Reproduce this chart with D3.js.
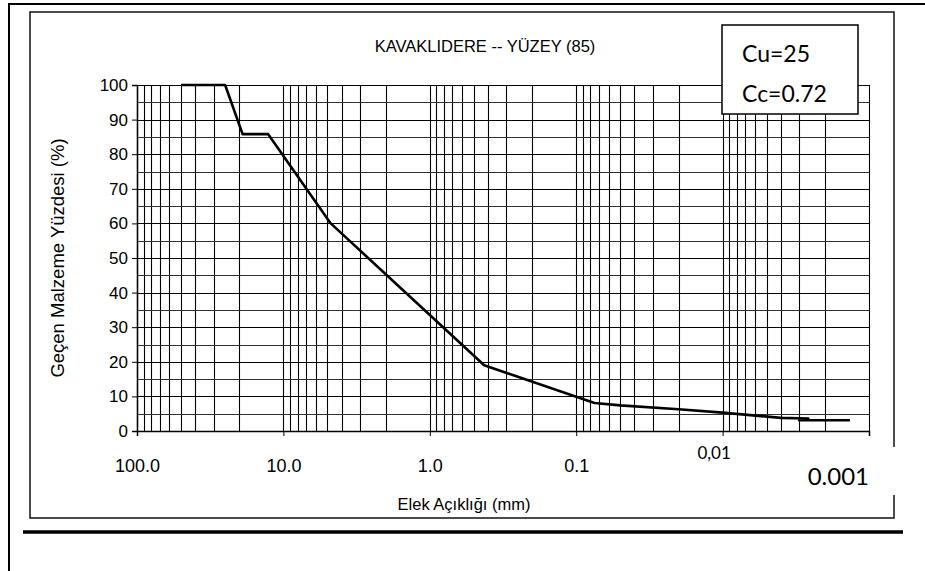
<html>
<head>
    <meta charSet="utf-8">
    <title>Kavaklidere - Yuzey</title>
    <script src="https://d3js.org/d3.v7.min.js"></script>
    <style>
        body { margin: 0; background: #fff; }
        text { font-family: "Liberation Sans", Arial, sans-serif; fill: #000; }
    </style>
</head>
<body>
<svg id="chart"></svg>
<script>
    // grain size (mm) and percent passing
    const sizes   = [50, 25, 19, 12.7, 4.75, 0.425, 0.075, 0.05, 0.02, 0.01, 0.004, 0.0026, 0.003, 0.00135];
    const passing = [100, 100, 85.8, 85.8, 60, 19, 8.1, 7.4, 6.3, 5.3, 3.8, 3.6, 3.1, 3.1];

    const xTicks = [100, 10, 1, 0.1, 0.01, 0.001];
    const xTickLabels = ["100.0", "10.0", "1.0", "0.1", "0,01", "0.001"];
    const yTicks = [0, 10, 20, 30, 40, 50, 60, 70, 80, 90, 100];

    const title = "KAVAKLIDERE -- YÜZEY (85)";
    const xTitle = "Elek Açıklığı (mm)";
    const yTitle = "Geçen Malzeme Yüzdesi (%)";
    const notes = ["Cu=25", "Cc=0.72"];

    const width = 925;
    const height = 571;

    const svg = d3.select("#chart")
        .attr("width", width)
        .attr("height", height);

    // page lines
    svg.append("line").attr("x1", 8).attr("x2", 925).attr("y1", 4).attr("y2", 4)
        .attr("stroke", "#000").attr("stroke-width", 2);
    svg.append("line").attr("x1", 9).attr("x2", 9).attr("y1", 4).attr("y2", 571)
        .attr("stroke", "#000").attr("stroke-width", 2);
    svg.append("line").attr("x1", 23).attr("x2", 903).attr("y1", 532).attr("y2", 532)
        .attr("stroke", "#000").attr("stroke-width", 3.5);

    // chart frame
    svg.append("rect")
        .attr("x", 30).attr("y", 12).attr("width", 864).attr("height", 506)
        .attr("fill", "none").attr("stroke", "#111").attr("stroke-width", 1.5);

    const x = d3.scaleLog().domain([100, 0.001]).range([137, 869]);
    const y = d3.scaleLinear().domain([0, 100]).range([431, 85]);

    // grid
    const gridX = [];
    for (let k = -3; k <= 1; k++) {
        for (let m = 1; m <= 9; m++) gridX.push(m * Math.pow(10, k));
    }
    gridX.push(100);

    svg.append("g").selectAll("line")
        .data(gridX)
        .join("line")
        .attr("x1", d => Math.round(x(d)) + 0.5)
        .attr("x2", d => Math.round(x(d)) + 0.5)
        .attr("y1", y(100))
        .attr("y2", y(0))
        .attr("stroke", "#000")
        .attr("stroke-width", 1.1);

    svg.append("g").selectAll("line")
        .data(d3.range(0, 101, 5))
        .join("line")
        .attr("x1", x(100))
        .attr("x2", x(0.001))
        .attr("y1", d => Math.round(y(d)) + 0.5)
        .attr("y2", d => Math.round(y(d)) + 0.5)
        .attr("stroke", d => d % 10 === 0 ? "#000" : "#333")
        .attr("stroke-width", 1.1);

    // axes
    const yAxis = svg.append("g")
        .attr("transform", `translate(${x(100)},0)`)
        .call(d3.axisLeft(y).tickValues(yTicks).tickSize(5).tickPadding(4));
    yAxis.select(".domain").attr("stroke", "#000").attr("stroke-width", 1.5);
    yAxis.selectAll(".tick line").attr("stroke", "#000");
    yAxis.selectAll("text").style("font-size", "17px").style("font-family", "Liberation Sans, Arial, sans-serif");

    const xAxis = svg.append("g")
        .attr("transform", `translate(0,${y(0)})`)
        .call(d3.axisBottom(x).tickValues(xTicks).tickSize(5).tickPadding(23)
            .tickFormat((d, i) => xTickLabels[i]));
    xAxis.select(".domain").attr("stroke", "#000").attr("stroke-width", 1.5);
    xAxis.selectAll(".tick line").attr("stroke", "#000");
    xAxis.selectAll("text").style("font-size", "18px").style("font-family", "Liberation Sans, Arial, sans-serif");

    // the two smaller-decade labels are separate text boxes in the original
    xAxis.selectAll(".tick").filter(d => d === 0.01).select("text")
        .attr("x", -9).attr("y", 16)
        .style("font-family", "Lato, sans-serif").style("font-size", "17px");
    xAxis.selectAll(".tick").filter(d => d === 0.001).select("text").remove();

    // curve
    const pts = sizes.map((s, i) => [s, passing[i]]);
    svg.append("path")
        .datum(pts)
        .attr("fill", "none")
        .attr("stroke", "#000")
        .attr("stroke-width", 2.6)
        .attr("stroke-linejoin", "round")
        .attr("d", d3.line().x(d => x(d[0])).y(d => y(d[1])));

    // 0.001 label box
    svg.append("rect")
        .attr("x", 800).attr("y", 447).attr("width", 100).attr("height", 48)
        .attr("fill", "#fff");
    svg.append("text")
        .attr("x", x(0.001)).attr("y", 485)
        .attr("text-anchor", "end")
        .style("font-family", "Lato, sans-serif")
        .style("font-size", "24px")
        .text(xTickLabels[5]);

    // titles
    svg.append("text")
        .attr("x", 485).attr("y", 52)
        .attr("text-anchor", "middle")
        .style("font-size", "16.5px")
        .text(title);

    svg.append("text")
        .attr("x", 464).attr("y", 510)
        .attr("text-anchor", "middle")
        .style("font-size", "16.5px")
        .text(xTitle);

    svg.append("text")
        .attr("transform", "translate(64,258) rotate(-90)")
        .attr("text-anchor", "middle")
        .style("font-size", "18.5px")
        .text(yTitle);

    // Cu / Cc box
    svg.append("rect")
        .attr("x", 722).attr("y", 25).attr("width", 136).attr("height", 89)
        .attr("fill", "#fff").attr("stroke", "#000").attr("stroke-width", 1.5);
    svg.append("g").selectAll("text")
        .data(notes)
        .join("text")
        .attr("x", 742)
        .attr("y", (d, i) => 62 + i * 40)
        .style("font-family", "Lato, sans-serif")
        .style("font-size", "23px")
        .text(d => d);
</script>
</body>
</html>
